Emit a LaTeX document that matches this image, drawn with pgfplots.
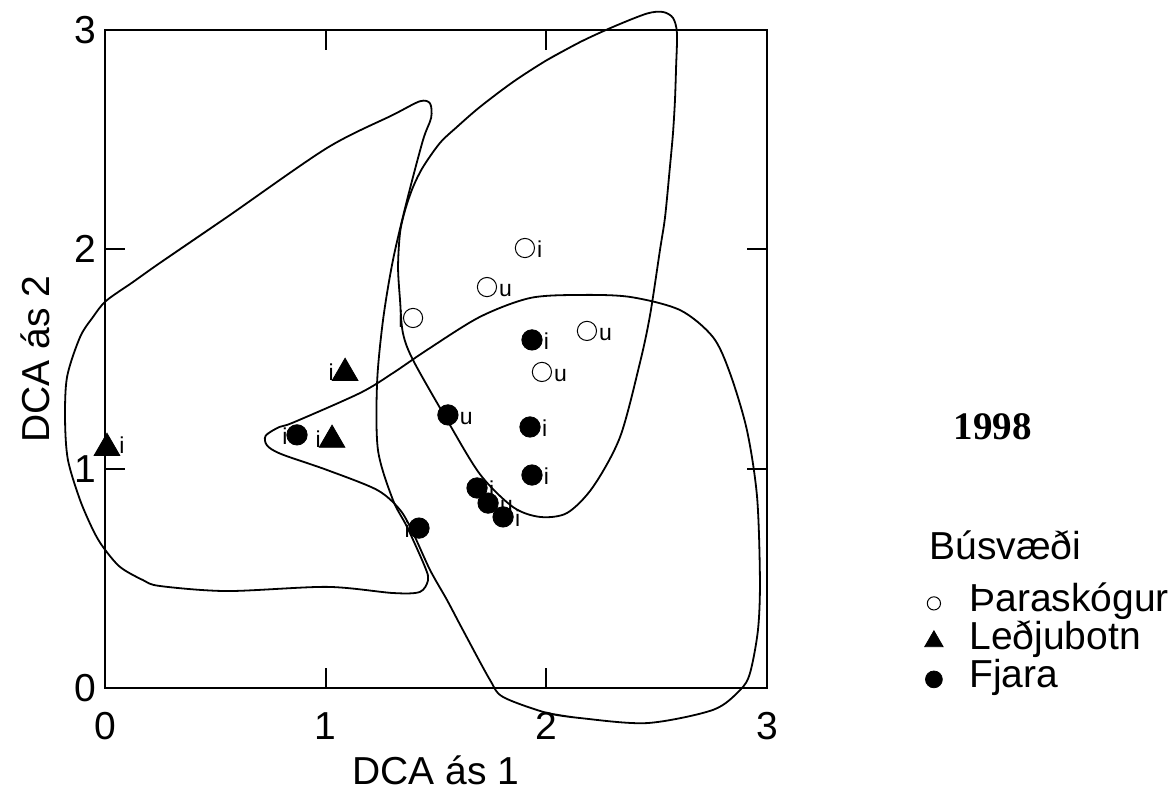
\documentclass[border=0pt]{standalone}
\usepackage{pgfplots}
\pgfplotsset{compat=1.18}
\usepackage{fontspec}
\setmainfont{Liberation Sans}
\newfontfamily\tnr{Liberation Serif}
\newcommand\bigf{\fontsize{19.5}{22}\selectfont}
\newcommand\lbl{\fontsize{11.5}{13}\selectfont}

\pgfplotstableread{
x y
0.553 2.147
0.249 1.938
0.127 1.851
0.005 1.765
-0.054 1.692
-0.113 1.600
-0.172 1.418
-0.181 1.222
-0.168 1.040
-0.113 0.857
-0.054 0.720
-0.009 0.643
0.068 0.552
0.172 0.492
0.249 0.465
0.553 0.442
1.006 0.461
1.305 0.433
1.427 0.438
1.464 0.492
1.450 0.552
1.369 0.734
1.305 0.857
1.237 1.085
1.233 1.391
1.260 1.678
1.305 1.951
1.369 2.225
1.441 2.498
1.478 2.600
1.473 2.665
1.427 2.675
1.305 2.613
1.006 2.462
0.553 2.147
0.249 1.938
}\hullA

\pgfplotstableread{
x y
2.003 2.863
2.153 2.945
2.302 3.014
2.456 3.075
2.529 3.082
2.574 3.055
2.592 2.986
2.588 2.831
2.583 2.681
2.574 2.530
2.560 2.375
2.538 2.147
2.515 1.997
2.470 1.700
2.424 1.482
2.334 1.144
2.211 0.916
2.094 0.798
1.971 0.780
1.849 0.825
1.699 0.975
1.550 1.222
1.396 1.495
1.350 1.619
1.337 1.769
1.328 1.919
1.337 2.075
1.360 2.179
1.396 2.284
1.441 2.375
1.518 2.485
1.595 2.558
1.699 2.649
1.849 2.763
2.003 2.863
2.153 2.945
}\hullB

\pgfplotstableread{
x y
2.153 -0.137
2.003 -0.114
1.804 -0.041
1.745 0.036
1.622 0.264
1.550 0.401
1.473 0.538
1.396 0.707
1.337 0.812
1.233 0.903
1.006 0.994
0.800 1.066
0.735 1.105
0.728 1.150
0.790 1.190
0.852 1.210
1.156 1.345
1.305 1.436
1.459 1.541
1.699 1.692
1.926 1.778
2.153 1.792
2.379 1.783
2.606 1.723
2.755 1.600
2.832 1.436
2.909 1.176
2.955 0.871
2.968 0.492
2.959 0.264
2.923 0.068
2.878 -0.009
2.755 -0.100
2.456 -0.160
2.153 -0.137
2.003 -0.114
}\hullC

\pgfplotstableread{
x y l
1.903 2.006 i
1.731 1.828 u
2.184 1.628 u
1.980 1.441 u
}\openR
\pgfplotstableread{
x y l
1.396 1.687 i
}\openL
\pgfplotstableread{
x y l
0.009 1.094 i
}\triR
\pgfplotstableread{
x y l
1.088 1.436 i
1.029 1.131 i
}\triL
\pgfplotstableread{
x y l
1.935 1.587 i
1.554 1.245 u
1.926 1.190 i
1.935 0.971 i
1.686 0.912 i
1.736 0.843 u
1.804 0.780 i
}\fillR
\pgfplotstableread{
x y l
0.870 1.154 i
1.423 0.729 i
}\fillL

\begin{document}
\begin{tikzpicture}
\begin{axis}[
  at={(0,0)}, anchor=south west,
  scale only axis, width=331pt, height=329pt,
  xmin=0, xmax=3, ymin=0, ymax=3,
  xtick={0,1,2,3}, ytick={0,1,2,3},
  tick align=inside, major tick length=10pt,
  axis line style={line width=1pt},
  tick style={black, line width=1pt},
  tick label style={font=\bigf},
  /pgf/number format/assume math mode=true,
  xticklabel style={inner sep=0pt, yshift=-12pt},
  yticklabel style={inner sep=0pt, xshift=-4pt},
  xlabel={DCA ás 1}, ylabel={DCA ás 2},
  label style={font=\bigf},
  xlabel style={at={(axis description cs:0.5,-0.1474)}, anchor=base},
  ylabel style={at={(axis description cs:-0.1057,0.5)}, anchor=center},
  clip=false,
  lblR/.style={nodes near coords, point meta=explicit symbolic,
    every node near coord/.append style={anchor=base west, inner sep=0pt,
      xshift=#1, yshift=-4.8pt, font=\lbl, text=black}},
  lblL/.style={nodes near coords, point meta=explicit symbolic,
    every node near coord/.append style={anchor=base east, inner sep=0pt,
      xshift=-#1, yshift=-4.8pt, font=\lbl, text=black}},
  legend style={draw=none, fill=none, inner sep=0pt,
    at={(axis cs:3.713,0.4605)}, anchor=north west,
    font=\bigf, row sep=3pt,
    nodes={inner sep=0pt, text height=12pt, text depth=4pt},
    /tikz/every odd column/.append style={column sep=13.2pt}},
  legend cell align=left,
]
\addplot[smooth, line width=0.9pt, black, forget plot] table {\hullA};
\addplot[smooth, line width=0.9pt, black, forget plot] table {\hullB};
\addplot[smooth, line width=0.9pt, black, forget plot] table {\hullC};

\addplot[only marks, mark=o, mark size=4.8pt, mark options={line width=0.5pt, black}, lblR=5.8pt, forget plot] table[meta=l] {\openR};
\addplot[only marks, mark=o, mark size=4.8pt, mark options={line width=0.5pt, black}, lblL=4.5pt, forget plot] table[meta=l] {\openL};
\addplot[only marks, mark=triangle*, mark size=7.4pt, mark options={black, fill=black}, lblR=6pt,
  every node near coord/.append style={yshift=2pt}, forget plot] table[meta=l] {\triR};
\addplot[only marks, mark=triangle*, mark size=7.4pt, mark options={black, fill=black}, lblL=5.5pt,
  every node near coord/.append style={yshift=1pt}, forget plot] table[meta=l] {\triL};
\addplot[only marks, mark=*, mark size=5.1pt, mark options={black, fill=black}, lblR=5.8pt, forget plot] table[meta=l] {\fillR};
\addplot[only marks, mark=*, mark size=5.1pt, mark options={black, fill=black}, lblL=4.5pt, forget plot] table[meta=l] {\fillL};

\node[font=\tnr\bfseries\fontsize{19.5}{22}\selectfont, anchor=base, inner sep=0pt] at (axis cs:4.024,1.131) {1998};
\node[font=\bigf, anchor=base west, inner sep=0pt] at (axis cs:3.734,0.584) {Búsvæði};

\addlegendimage{only marks, mark=o, mark size=3.3pt, mark options={line width=0.5pt, black}}
\addlegendentry{Þaraskógur}
\addlegendimage{only marks, mark=triangle*, mark size=5.3pt, mark options={black, fill=black}}
\addlegendentry{Leðjubotn}
\addlegendimage{only marks, mark=*, mark size=4.2pt, mark options={black, fill=black}}
\addlegendentry{Fjara}
\end{axis}
\pgfresetboundingbox
\path[use as bounding box] (-52.5pt,-51.5pt) rectangle (533.5pt,344pt);
\end{tikzpicture}
\end{document}
